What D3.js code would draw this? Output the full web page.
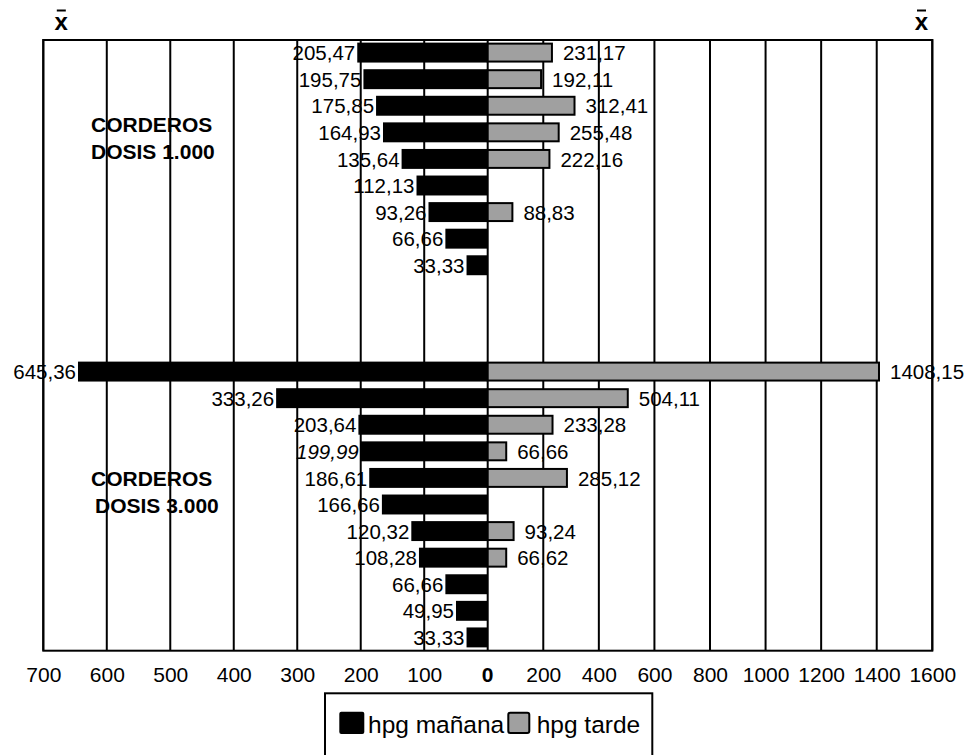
<!DOCTYPE html>
<html>
<head>
<meta charset="utf-8">
<script src="https://cdn.jsdelivr.net/npm/d3@7"></script>
<style>
  html, body { margin: 0; padding: 0; background: #fff; }
  svg { display: block; font-family: "Liberation Sans", Arial, sans-serif; }
</style>
</head>
<body>
<svg id="chart" width="972" height="755"></svg>
<script>
// hpg counts, morning (left) and afternoon (right), per lamb group
const groupNames = ["CORDEROS", "DOSIS 1.000", "DOSIS 3.000"];
const manana1 = [205.47, 195.75, 175.85, 164.93, 135.64, 112.13, 93.26, 66.66, 33.33];
const tarde1  = [231.17, 192.11, 312.41, 255.48, 222.16, null, 88.83, null, null];
const manana2 = [645.36, 333.26, 203.64, 199.99, 186.61, 166.66, 120.32, 108.28, 66.66, 49.95, 33.33];
const tarde2  = [1408.15, 504.11, 233.28, 66.66, 285.12, null, 93.24, 66.62, null, null, null];
const spacerRows = 3;
const leftTicks = [700, 600, 500, 400, 300, 200, 100];
const rightTicks = [200, 400, 600, 800, 1000, 1200, 1400, 1600];
const seriesNames = ["hpg mañana", "hpg tarde"];

// one row per bar pair; spacer rows separate the two groups
const rows = [];
manana1.forEach((m, i) => rows.push({ key: "a" + i, m: m, t: tarde1[i] }));
for (let s = 0; s < spacerRows; s++) rows.push({ key: "s" + s, m: null, t: null });
manana2.forEach((m, i) => rows.push({ key: "b" + i, m: m, t: tarde2[i] }));

const svg = d3.select("#chart");
const x0 = 487.7, xL = 43.3, xR = 932.3, yTop = 39.3, yBot = 650.7;

const xLeft = d3.scaleLinear().domain([0, 700]).range([x0, xL]);
const xRight = d3.scaleLinear().domain([0, 1600]).range([x0, xR]);
const y = d3.scaleBand().domain(rows.map(r => r.key)).range([yTop, yBot]).paddingInner(0.25).paddingOuter(0.125);

const fmt = v => d3.format(".2f")(v).replace(".", ",");

// vertical gridlines
const grid = svg.append("g").attr("stroke", "#000").attr("stroke-width", 2);
leftTicks.forEach(v => grid.append("line").attr("x1", xLeft(v)).attr("x2", xLeft(v)).attr("y1", yTop).attr("y2", yBot));
rightTicks.forEach(v => grid.append("line").attr("x1", xRight(v)).attr("x2", xRight(v)).attr("y1", yTop).attr("y2", yBot));
grid.append("line").attr("x1", x0).attr("x2", x0).attr("y1", yTop).attr("y2", yBot);

// plot frame
svg.append("rect").attr("x", xL).attr("y", yTop + 0.7).attr("width", xR - xL).attr("height", yBot - yTop - 0.7)
  .attr("fill", "none").attr("stroke", "#000").attr("stroke-width", 2);

// morning bars
svg.append("g").selectAll("rect").data(rows.filter(r => r.m != null)).join("rect")
  .attr("x", d => xLeft(d.m)).attr("y", d => y(d.key))
  .attr("width", d => x0 - xLeft(d.m)).attr("height", y.bandwidth())
  .attr("fill", "#000");

// afternoon bars
svg.append("g").selectAll("rect").data(rows.filter(r => r.t != null)).join("rect")
  .attr("x", x0).attr("y", d => y(d.key) + 1)
  .attr("width", d => xRight(d.t) - x0).attr("height", y.bandwidth() - 2)
  .attr("fill", "#a0a0a0").attr("stroke", "#000").attr("stroke-width", 2);

// value labels
const italicKeys = new Set(["b3"]);
svg.append("g").attr("font-size", 20.5).selectAll("text").data(rows.filter(r => r.m != null)).join("text")
  .attr("x", d => xLeft(d.m) - 2).attr("y", d => y(d.key) + y.bandwidth() / 2 + 7.6)
  .attr("text-anchor", "end")
  .attr("font-style", d => italicKeys.has(d.key) ? "italic" : null)
  .text(d => fmt(d.m));
svg.append("g").attr("font-size", 20.5).selectAll("text").data(rows.filter(r => r.t != null)).join("text")
  .attr("x", d => xRight(d.t) + 11).attr("y", d => y(d.key) + y.bandwidth() / 2 + 7.6)
  .text(d => fmt(d.t));

// group captions
const cap = svg.append("g").attr("font-size", 21).attr("font-weight", "bold");
const c1 = y("a3") + y.bandwidth() / 2;
cap.append("text").attr("x", 91).attr("y", c1).text(groupNames[0]);
cap.append("text").attr("x", 91).attr("y", c1 + 26.6).text(groupNames[1]);
const c2 = y("b4") + y.bandwidth() / 2;
cap.append("text").attr("x", 91).attr("y", c2 + 8).text(groupNames[0]);
cap.append("text").attr("x", 95).attr("y", c2 + 34.6).text(groupNames[2]);

// bottom axis labels
const axL = svg.append("g").attr("transform", `translate(0,${yBot})`)
  .call(d3.axisBottom(xLeft).tickValues(leftTicks).tickSize(0).tickPadding(16).tickFormat(d3.format("d")));
const axR = svg.append("g").attr("transform", `translate(0,${yBot})`)
  .call(d3.axisBottom(xRight).tickValues(rightTicks).tickSize(0).tickPadding(16).tickFormat(d3.format("d")));
[axL, axR].forEach(a => {
  a.select(".domain").remove();
  a.selectAll("text").attr("font-size", 21).attr("font-family", "Liberation Sans, Arial, sans-serif").attr("fill", "#000");
});
svg.append("text").attr("x", x0).attr("y", 681.7).attr("text-anchor", "middle")
  .attr("font-size", 21).attr("font-weight", "bold").text("0");

// mean symbols above each side
[61.3, 921.5].forEach(cx => {
  svg.append("text").attr("x", cx).attr("y", 29.8).attr("text-anchor", "middle")
    .attr("font-size", 24).attr("font-weight", "bold").text("x");
  svg.append("line").attr("x1", cx - 4.5).attr("x2", cx + 4.5).attr("y1", 10.5).attr("y2", 10.5)
    .attr("stroke", "#000").attr("stroke-width", 2);
});

// legend
const lg = svg.append("g");
lg.append("rect").attr("x", 325).attr("y", 693.3).attr("width", 327.3).attr("height", 80)
  .attr("fill", "#fff").attr("stroke", "#000").attr("stroke-width", 2);
lg.append("rect").attr("x", 339.3).attr("y", 711.7).attr("width", 25).attr("height", 22.3).attr("rx", 2).attr("fill", "#000");
lg.append("text").attr("x", 368).attr("y", 733.3).attr("font-size", 24.5).text(seriesNames[0]);
lg.append("rect").attr("x", 508.3).attr("y", 712.7).attr("width", 21).attr("height", 20.3).attr("rx", 2)
  .attr("fill", "#a0a0a0").attr("stroke", "#000").attr("stroke-width", 2);
lg.append("text").attr("x", 536.7).attr("y", 733.3).attr("font-size", 24.5).text(seriesNames[1]);
</script>
</body>
</html>
